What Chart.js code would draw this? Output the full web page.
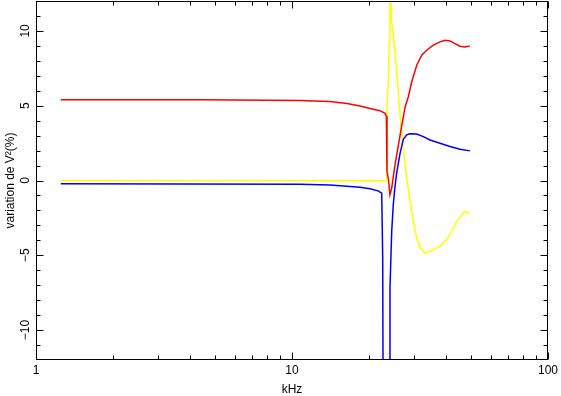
<!DOCTYPE html>
<html><head><meta charset="utf-8">
<script src="https://cdn.jsdelivr.net/npm/chart.js@4"></script>
<style>html,body{margin:0;padding:0;background:#fff}</style>
</head><body>
<canvas id="c" width="561" height="396"></canvas>
<script>
// ---- data (frequency in kHz, variation in %) ----
const freqRed = [1.25, 4.37, 10.75, 14.07, 16.4, 18.44, 20.17, 22.07, 23.08, 23.37, 23.50, 23.78, 24.14, 24.52, 25.26, 26.42, 27.64, 28.47, 29.36, 30.71, 32.11, 33.59, 35.65, 37.86, 39.60, 41.42, 43.33, 45.33, 47.41, 49.58];
const red = [5.4, 5.4, 5.35, 5.28, 5.15, 4.98, 4.82, 4.67, 4.49, 4.3, 0.6, 0.15, -0.96, -0.51, 1.05, 3.0, 4.9, 5.6, 6.6, 7.71, 8.38, 8.71, 9.05, 9.27, 9.38, 9.33, 9.15, 8.98, 8.93, 9.0];

const freqBlue = [1.25, 10.75, 14.07, 18.44, 20.17, 21.68, 22.41, 22.61, 22.74, 23.99, 24.14, 24.52, 24.87, 25.26, 25.64, 26.42, 27.22, 28.06, 28.91, 30.71, 32.58, 34.60, 37.86, 41.42, 45.33, 49.58];
const blue = [-0.22, -0.25, -0.3, -0.45, -0.55, -0.69, -0.85, -5.1, -20, -20, -7.2, -3.4, -1.6, -0.4, 0.5, 1.8, 2.75, 3.05, 3.13, 3.11, 2.93, 2.71, 2.49, 2.27, 2.09, 1.98];

const freqYellow = [1.25, 23.37, 23.44, 23.78, 23.99, 24.14, 24.25, 24.52, 24.87, 25.26, 25.85, 26.42, 27.22, 28.06, 29.36, 29.78, 30.71, 31.62, 33.08, 34.60, 37.86, 40.21, 42.06, 44.00, 46.02, 47.41, 49.58];
const yellow = [-0.02, -0.02, 4.4, 6.6, 9.27, 12.0, 12.5, 10.6, 9.7, 8.6, 6.6, 4.4, 2.15, 0.15, -2.07, -2.73, -3.85, -4.5, -4.85, -4.73, -4.4, -3.95, -3.4, -2.73, -2.3, -2.07, -2.2];

// ---- ticks ----
const xMajor = [1, 10, 100];
const xTickLabels = ['1', '10', '100'];
const xMinor = [2, 3, 4, 5, 6, 7, 8, 9, 20, 30, 40, 50, 60, 70, 80, 90];
const yMajor = [-10, -5, 0, 5, 10];
const yTickLabels = ['\u221210', '\u22125', '0', '5', '10'];
const yMinor = [-11, -9, -8, -7, -6, -4, -3, -2, -1, 1, 2, 3, 4, 6, 7, 8, 9, 11];

function pts(xs, ys) { return xs.map((x, i) => ({ x: x, y: ys[i] })); }

const FONT = '"Liberation Sans", Arial, sans-serif';

const framePlugin = {
  id: 'frame',
  afterDraw(chart) {
    const ctx = chart.ctx, a = chart.chartArea, xs = chart.scales.x, ys = chart.scales.y;
    const L = Math.round(a.left) + 0.5, R = Math.round(a.right) - 0.5;
    const T = Math.round(a.top) + 0.5, B = Math.round(a.bottom) - 0.5;
    ctx.save();
    ctx.strokeStyle = '#000';
    ctx.lineWidth = 1;
    ctx.strokeRect(L, T, R - L, B - T);
    ctx.beginPath();
    const xt = (v, len) => {
      const p = Math.round(xs.getPixelForValue(v)) + 0.5;
      ctx.moveTo(p, B); ctx.lineTo(p, B - len);
      ctx.moveTo(p, T); ctx.lineTo(p, T + len);
    };
    const yt = (v, len) => {
      const p = Math.round(ys.getPixelForValue(v)) + 0.5;
      ctx.moveTo(L, p); ctx.lineTo(L + len, p);
      ctx.moveTo(R, p); ctx.lineTo(R - len, p);
    };
    xMajor.forEach(v => xt(v, 7));
    xMinor.forEach(v => xt(v, 4));
    yMajor.forEach(v => yt(v, 7));
    yMinor.forEach(v => yt(v, 4));
    ctx.stroke();
    // rotated y tick labels
    ctx.fillStyle = '#000';
    ctx.font = '12px ' + FONT;
    ctx.textAlign = 'center';
    ctx.textBaseline = 'middle';
    yMajor.forEach((v, i) => {
      const p = ys.getPixelForValue(v);
      ctx.save();
      ctx.translate(L - 11, p);
      ctx.rotate(-Math.PI / 2);
      ctx.fillText(yTickLabels[i], 0, 0);
      ctx.restore();
    });
    ctx.restore();
  }
};

new Chart(document.getElementById('c'), {
  type: 'line',
  data: {
    datasets: [
      { label: 'blue', data: pts(freqBlue, blue), borderColor: '#0000ff', borderWidth: 1.5 },
      { label: 'red', data: pts(freqRed, red), borderColor: '#ff0000', borderWidth: 1.5 },
      { label: 'yellow', data: pts(freqYellow, yellow), borderColor: '#ffff00', borderWidth: 1.5 }
    ]
  },
  options: {
    responsive: false,
    animation: false,
    events: [],
    elements: { point: { radius: 0 }, line: { tension: 0 } },
    layout: { padding: { left: 0, right: 12, top: 1, bottom: 0 } },
    plugins: { legend: { display: false }, tooltip: { enabled: false } },
    scales: {
      x: {
        type: 'logarithmic', min: 1, max: 100,
        afterBuildTicks(s) { s.ticks = xMajor.map(v => ({ value: v })); },
        afterFit(s) { s.height = 36; },
        ticks: {
          color: '#000', font: { family: FONT, size: 12 }, padding: 3,
          maxRotation: 0, autoSkip: false,
          callback(v) { const i = xMajor.indexOf(v); return i >= 0 ? xTickLabels[i] : ''; }
        },
        grid: { display: false, drawTicks: false },
        border: { display: false },
        title: { display: true, text: 'kHz', color: '#000', font: { family: FONT, size: 12, lineHeight: 1 }, padding: { top: 0, bottom: 0 } }
      },
      y: {
        type: 'linear', min: -12, max: 12,
        afterBuildTicks(s) { s.ticks = yMajor.map(v => ({ value: v })); },
        afterFit(s) { s.width = 36; },
        ticks: { display: false },
        grid: { display: false, drawTicks: false },
        border: { display: false },
        title: { display: true, text: 'variation de V\u00b2(%)', color: '#000', font: { family: FONT, size: 12 }, padding: { top: 3, bottom: 0 } }
      }
    }
  },
  plugins: [framePlugin]
});
</script>
</body></html>
